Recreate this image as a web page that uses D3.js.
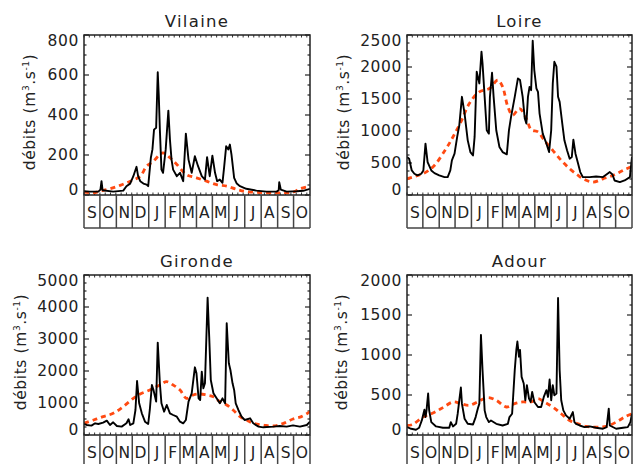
<!DOCTYPE html>
<html><head><meta charset="utf-8">
<script src="https://cdn.jsdelivr.net/npm/d3@7"></script>
<style>
body{margin:0;background:#fff;}
text{font-family:"DejaVu Sans",sans-serif;fill:#222;}
</style></head><body>
<svg id="c" width="634" height="464"></svg>
<script>
// Month categories (Sep -> Oct of following year)
const monthLabels = ["S","O","N","D","J","F","M","A","M","J","J","A","S","O"];
const startDate = new Date(2000, 8, 1);
const endDate = new Date(2001, 10, 1);

// Observed daily discharge [day since 1 Sep, m3/s]
const vilaineObs = [[0,19],[11,17],[27,17],[31,27],[33,69],[35,24],[55,17],[74,22],[80,44],[87,57],[93,94],[99,141],[102,94],[106,69],[112,57],[118,52],[121,44],[126,186],[129,228],[132,327],[136,336],[139,614],[141,494],[143,327],[146,127],[149,111],[154,228],[159,422],[162,277],[165,177],[168,127],[175,94],[181,111],[187,69],[192,307],[197,177],[203,111],[209,194],[215,144],[222,94],[228,77],[232,189],[237,94],[242,197],[247,111],[251,69],[256,77],[261,61],[264,136],[268,244],[272,228],[275,252],[278,202],[283,86],[288,57],[294,44],[306,31],[325,22],[344,17],[363,17],[367,24],[368,64],[371,27],[382,17],[401,19],[413,21],[426,31]];
const vilaineClim = [[0,14],[18,11],[30,19],[49,31],[68,48],[87,69],[106,94],[118,144],[131,169],[143,203],[149,211],[162,186],[175,153],[193,102],[212,86],[231,69],[250,52],[269,44],[288,28],[306,17],[338,12],[369,11],[394,14],[407,31],[426,44]];

const loireObs = [[0,593],[4,567],[9,384],[14,332],[20,306],[27,332],[31,384],[35,802],[39,515],[46,384],[52,342],[61,306],[71,280],[77,280],[82,384],[85,541],[90,645],[95,907],[99,1089],[104,1534],[109,1272],[115,854],[120,671],[125,619],[128,907],[132,1925],[137,1743],[141,2239],[143,2056],[147,1534],[151,1011],[155,959],[157,1534],[161,1910],[164,1534],[169,1011],[175,750],[181,671],[189,635],[193,1011],[197,1220],[204,1534],[210,1821],[214,1795],[219,1534],[223,1194],[226,1116],[229,1534],[232,1690],[235,1638],[238,2411],[241,1952],[245,1664],[248,1612],[251,1272],[257,959],[264,802],[269,671],[273,1011],[276,1743],[279,2082],[283,2004],[286,1534],[289,1455],[294,1116],[298,854],[303,698],[308,567],[312,593],[315,865],[319,645],[324,489],[328,358],[333,280],[346,280],[358,290],[371,280],[377,316],[384,358],[389,321],[393,227],[403,201],[412,227],[422,280],[426,593]];
const loireClim = [[0,253],[17,295],[30,332],[49,436],[74,724],[87,907],[102,1142],[118,1429],[137,1612],[156,1664],[172,1795],[181,1690],[191,1377],[200,1246],[213,1351],[226,1194],[235,1021],[248,985],[260,854],[276,698],[292,541],[308,410],[324,306],[336,243],[352,201],[371,253],[390,306],[409,384],[426,447]];

const girondeObs = [[0,344],[5,313],[14,292],[21,365],[27,344],[36,385],[43,448],[49,313],[55,396],[62,281],[71,261],[80,365],[84,490],[87,313],[93,365],[97,782],[100,1688],[104,990],[109,677],[115,417],[121,344],[124,782],[128,1563],[131,1407],[136,1042],[139,2886],[143,1615],[146,990],[151,729],[156,938],[162,677],[168,625],[175,573],[181,417],[187,365],[192,469],[197,1042],[203,1303],[209,2115],[212,1928],[216,1146],[219,1094],[222,1980],[225,1459],[228,1615],[233,4293],[236,3074],[239,1719],[244,1303],[250,1146],[256,990],[261,1146],[266,990],[269,3491],[273,2240],[276,2032],[280,1615],[283,1407],[286,990],[291,782],[297,573],[303,469],[313,521],[319,365],[329,261],[338,240],[357,261],[369,281],[382,261],[394,302],[407,261],[420,313],[426,417]];
const girondeClim = [[0,365],[18,469],[36,573],[55,677],[74,886],[93,1146],[106,1282],[124,1407],[143,1563],[156,1667],[168,1563],[181,1407],[193,1146],[206,1250],[219,1282],[231,1250],[244,1198],[256,1042],[269,938],[281,782],[294,573],[306,469],[319,365],[338,313],[357,281],[376,365],[394,500],[410,573],[426,729]];

const adourObs = [[0,99],[8,78],[17,65],[23,90],[28,182],[33,317],[35,224],[37,308],[40,518],[42,308],[46,161],[55,107],[68,90],[80,90],[83,161],[87,107],[93,140],[96,266],[99,434],[102,593],[104,392],[109,203],[115,140],[125,132],[130,224],[134,329],[137,392],[140,1252],[143,811],[147,308],[150,224],[155,161],[159,182],[169,140],[181,119],[191,140],[194,224],[199,266],[204,811],[207,1063],[209,1168],[212,979],[214,1063],[217,727],[221,644],[224,434],[227,623],[231,455],[234,413],[237,539],[241,413],[248,350],[254,350],[259,476],[264,560],[267,476],[270,694],[273,434],[276,623],[279,497],[283,518],[286,1713],[289,811],[292,434],[296,308],[301,245],[308,203],[314,287],[317,161],[320,140],[327,119],[336,99],[346,107],[358,90],[371,78],[378,99],[382,329],[384,119],[396,78],[409,90],[418,99],[423,161],[426,266]];
const adourClim = [[0,119],[11,132],[30,224],[49,275],[68,342],[87,413],[102,392],[118,371],[137,426],[153,468],[169,434],[188,350],[204,392],[219,413],[235,413],[248,455],[260,413],[276,350],[292,266],[308,182],[324,140],[339,107],[358,99],[377,107],[396,161],[412,224],[426,266]];

// y tick labels per panel
const vilaineTicks = [0,200,400,600,800];
const loireTicks = [0,500,1000,1500,2000,2500];
const girondeTicks = [0,1000,2000,3000,4000,5000];
const adourTicks = [0,500,1000,1500,2000];

const panels = [
  {name:"Vilaine", obs:vilaineObs, clim:vilaineClim, ticks:vilaineTicks, x:84, y:35, w:226, h:160, labX:30},
  {name:"Loire", obs:loireObs, clim:loireClim, ticks:loireTicks, x:407, y:35, w:225, h:160, labX:344},
  {name:"Gironde", obs:girondeObs, clim:girondeClim, ticks:girondeTicks, x:84, y:275, w:226, h:160, labX:21},
  {name:"Adour", obs:adourObs, clim:adourClim, ticks:adourTicks, x:407, y:275, w:225, h:160, labX:342}
];

const svg = d3.select("#c");
const dayToDate = d => d3.timeDay.offset(startDate, d);
const monthStarts = d3.timeMonth.range(startDate, endDate);

panels.forEach((p,i) => {
  const g = svg.append("g").attr("transform", `translate(${p.x},${p.y})`);
  const x = d3.scaleTime().domain([startDate, endDate]).range([0, p.w]);
  const ymax = p.ticks[p.ticks.length-1];
  const y = d3.scaleLinear().domain([0, ymax]).range([p.h, 0]);
  const step = p.ticks[1];

  svg.append("clipPath").attr("id","clip"+i).append("rect").attr("width",p.w).attr("height",p.h);

  // title
  g.append("text").attr("x", p.w/2).attr("y", -8).attr("text-anchor","middle")
    .attr("font-size",16.5).attr("letter-spacing","1.3px").text(p.name);

  // y label
  const lab = svg.append("text").attr("transform",`translate(${p.labX},${p.y+p.h/2-3}) rotate(-90)`)
    .attr("text-anchor","middle").attr("dy","0.35em").attr("font-size",15.5).attr("letter-spacing","0.6px");
  lab.append("tspan").text("débits (m");
  lab.append("tspan").attr("dy",-6).attr("font-size",9).text("3");
  lab.append("tspan").attr("dy",6).text(".s");
  lab.append("tspan").attr("dy",-6).attr("font-size",9).text("-1");
  lab.append("tspan").attr("dy",6).text(")");

  // y tick labels (end labels kept inside the frame height, IDL style)
  p.ticks.forEach((t,k) => {
    let yy = y(t);
    if (k === 0) yy = p.h - 5;
    if (k === p.ticks.length-1) yy = 6;
    g.append("text").attr("x",-5).attr("y",yy).attr("text-anchor","end")
      .attr("dominant-baseline","central").attr("font-size",15.5).attr("letter-spacing","0.6px").text(t);
  });

  // y ticks, both sides
  const minor = d3.range(0, ymax+0.001, step/4);
  minor.forEach(v => {
    const major = Math.abs(v/step - Math.round(v/step)) < 1e-6;
    const L = major ? 5 : 2.5;
    g.append("line").attr("x1",0).attr("x2",L).attr("y1",y(v)).attr("y2",y(v)).attr("stroke","#222").attr("stroke-width",1.2);
    g.append("line").attr("x1",p.w).attr("x2",p.w-L).attr("y1",y(v)).attr("y2",y(v)).attr("stroke","#222").attr("stroke-width",1.2);
  });
  d3.range(0, 427, 10).forEach(d => {
    const xx = x(dayToDate(d));
    g.append("line").attr("x1",xx).attr("x2",xx).attr("y1",0).attr("y2",2.5).attr("stroke","#333").attr("stroke-width",1);
    g.append("line").attr("x1",xx).attr("x2",xx).attr("y1",p.h).attr("y2",p.h-2.5).attr("stroke","#333").attr("stroke-width",1);
  });

  // data lines
  const line = d3.line().x(d => x(dayToDate(d[0]))).y(d => y(d[1]));
  const cg = g.append("g").attr("clip-path",`url(#clip${i})`);
  cg.append("path").datum(p.clim).attr("d", line.curve(d3.curveCatmullRom)).attr("fill","none")
    .attr("stroke","#ff4a12").attr("stroke-width",2.8).attr("stroke-dasharray","5,4");
  cg.append("path").datum(p.obs).attr("d", line.curve(d3.curveLinear)).attr("fill","none")
    .attr("stroke","#000").attr("stroke-width",1.9).attr("stroke-linejoin","round");

  // frame
  g.append("rect").attr("width",p.w).attr("height",p.h).attr("fill","none").attr("stroke","#222").attr("stroke-width",1.5);

  // month boxes row
  const mh = 33;
  const mg = g.append("g").attr("transform",`translate(0,${p.h})`);
  monthStarts.forEach((m,k) => {
    const x0 = x(m), x1 = x(d3.timeMonth.offset(m,1));
    mg.append("line").attr("x1",x0).attr("x2",x0).attr("y1",0).attr("y2",mh).attr("stroke","#444").attr("stroke-width",1.5);
    mg.append("text").attr("x",(x0+x1)/2).attr("y",mh/2+1).attr("text-anchor","middle")
      .attr("dominant-baseline","central").attr("font-size",15.5).attr("fill","#333").text(monthLabels[k]);
  });
  mg.append("line").attr("x1",p.w).attr("x2",p.w).attr("y1",0).attr("y2",mh).attr("stroke","#444").attr("stroke-width",1.5);
  mg.append("line").attr("x1",0).attr("x2",p.w).attr("y1",mh).attr("y2",mh).attr("stroke","#444").attr("stroke-width",1.5);
});
</script>
</body></html>
